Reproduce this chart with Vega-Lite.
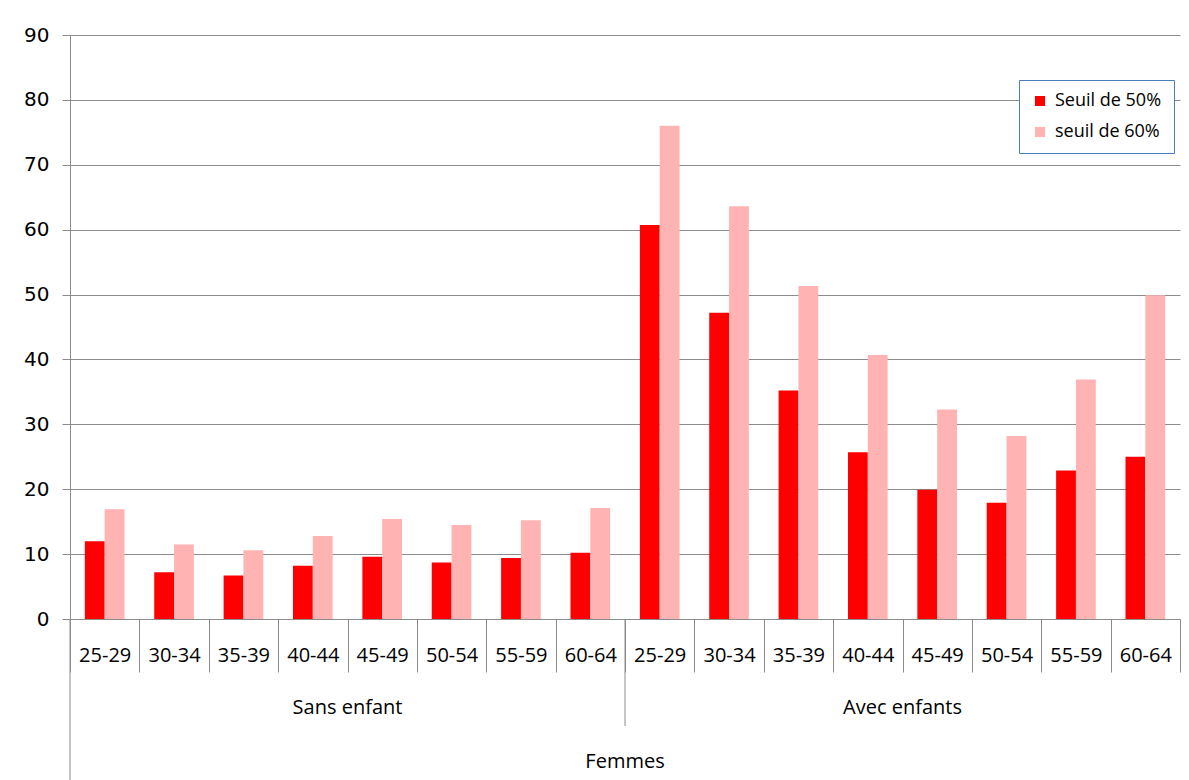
{
  "$schema": "https://vega.github.io/schema/vega-lite/v6.json",
  "width": 1110,
  "height": 584,
  "autosize": {"type": "none"},
  "padding": {"left": 70, "top": 35, "right": 9, "bottom": 161},
  "background": "white",
  "config": {"view": {"stroke": null}, "font": "Open Sans"},
  "datasets": {
    "bars": [
      {"cat": "Sans enfant|25-29", "seuil": "Seuil de 50%", "valeur": 12.0},
      {"cat": "Sans enfant|25-29", "seuil": "seuil de 60%", "valeur": 16.9},
      {"cat": "Sans enfant|30-34", "seuil": "Seuil de 50%", "valeur": 7.2},
      {"cat": "Sans enfant|30-34", "seuil": "seuil de 60%", "valeur": 11.5},
      {"cat": "Sans enfant|35-39", "seuil": "Seuil de 50%", "valeur": 6.7},
      {"cat": "Sans enfant|35-39", "seuil": "seuil de 60%", "valeur": 10.6},
      {"cat": "Sans enfant|40-44", "seuil": "Seuil de 50%", "valeur": 8.2},
      {"cat": "Sans enfant|40-44", "seuil": "seuil de 60%", "valeur": 12.8},
      {"cat": "Sans enfant|45-49", "seuil": "Seuil de 50%", "valeur": 9.6},
      {"cat": "Sans enfant|45-49", "seuil": "seuil de 60%", "valeur": 15.4},
      {"cat": "Sans enfant|50-54", "seuil": "Seuil de 50%", "valeur": 8.7},
      {"cat": "Sans enfant|50-54", "seuil": "seuil de 60%", "valeur": 14.5},
      {"cat": "Sans enfant|55-59", "seuil": "Seuil de 50%", "valeur": 9.4},
      {"cat": "Sans enfant|55-59", "seuil": "seuil de 60%", "valeur": 15.2},
      {"cat": "Sans enfant|60-64", "seuil": "Seuil de 50%", "valeur": 10.2},
      {"cat": "Sans enfant|60-64", "seuil": "seuil de 60%", "valeur": 17.1},
      {"cat": "Avec enfants|25-29", "seuil": "Seuil de 50%", "valeur": 60.7},
      {"cat": "Avec enfants|25-29", "seuil": "seuil de 60%", "valeur": 76.0},
      {"cat": "Avec enfants|30-34", "seuil": "Seuil de 50%", "valeur": 47.2},
      {"cat": "Avec enfants|30-34", "seuil": "seuil de 60%", "valeur": 63.6},
      {"cat": "Avec enfants|35-39", "seuil": "Seuil de 50%", "valeur": 35.2},
      {"cat": "Avec enfants|35-39", "seuil": "seuil de 60%", "valeur": 51.3},
      {"cat": "Avec enfants|40-44", "seuil": "Seuil de 50%", "valeur": 25.7},
      {"cat": "Avec enfants|40-44", "seuil": "seuil de 60%", "valeur": 40.7},
      {"cat": "Avec enfants|45-49", "seuil": "Seuil de 50%", "valeur": 19.9},
      {"cat": "Avec enfants|45-49", "seuil": "seuil de 60%", "valeur": 32.3},
      {"cat": "Avec enfants|50-54", "seuil": "Seuil de 50%", "valeur": 17.9},
      {"cat": "Avec enfants|50-54", "seuil": "seuil de 60%", "valeur": 28.2},
      {"cat": "Avec enfants|55-59", "seuil": "Seuil de 50%", "valeur": 22.9},
      {"cat": "Avec enfants|55-59", "seuil": "seuil de 60%", "valeur": 36.9},
      {"cat": "Avec enfants|60-64", "seuil": "Seuil de 50%", "valeur": 25.0},
      {"cat": "Avec enfants|60-64", "seuil": "seuil de 60%", "valeur": 49.9}
    ],
    "groups": [
      {"cat": "Sans enfant|45-49", "label": "Sans enfant"},
      {"cat": "Avec enfants|45-49", "label": "Avec enfants"}
    ],
    "femmes": [{"cat": "Avec enfants|25-29", "label": "Femmes"}],
    "leftLine": [{"cat": "Sans enfant|25-29"}],
    "midLine": [{"cat": "Avec enfants|25-29"}]
  },
  "layer": [
    {
      "data": {"name": "bars"},
      "mark": {"type": "bar"},
      "encoding": {
        "x": {
          "field": "cat",
          "type": "nominal",
          "scale": {
            "domain": ["Sans enfant|25-29", "Sans enfant|30-34", "Sans enfant|35-39", "Sans enfant|40-44", "Sans enfant|45-49", "Sans enfant|50-54", "Sans enfant|55-59", "Sans enfant|60-64", "Avec enfants|25-29", "Avec enfants|30-34", "Avec enfants|35-39", "Avec enfants|40-44", "Avec enfants|45-49", "Avec enfants|50-54", "Avec enfants|55-59", "Avec enfants|60-64"],
            "paddingInner": 0,
            "paddingOuter": 0
          },
          "axis": {
            "title": null,
            "labelExpr": "split(datum.label, '|')[1]",
            "labelAngle": 0,
            "labelFont": "Open Sans",
            "labelFontSize": 20,
            "labelColor": "#000000",
            "labelBaseline": "middle",
            "labelPadding": -17,
            "tickBand": "extent",
            "tickSize": 53,
            "tickColor": "#8c8c8c",
            "domainColor": "#8c8c8c",
            "grid": false
          }
        },
        "xOffset": {
          "field": "seuil",
          "type": "nominal",
          "scale": {"domain": ["Seuil de 50%", "seuil de 60%"], "paddingInner": 0, "paddingOuter": 0.75}
        },
        "y": {
          "field": "valeur",
          "type": "quantitative",
          "scale": {"domain": [0, 90], "nice": false},
          "axis": {
            "title": null,
            "values": [0, 10, 20, 30, 40, 50, 60, 70, 80, 90],
            "grid": true,
            "gridColor": "#8c8c8c",
            "domainColor": "#8c8c8c",
            "tickColor": "#8c8c8c",
            "tickSize": 8,
            "labelPadding": 13,
            "labelFont": "DejaVu Sans",
            "labelFontSize": 20,
            "labelColor": "#000000"
          }
        },
        "color": {
          "field": "seuil",
          "type": "nominal",
          "scale": {"domain": ["Seuil de 50%", "seuil de 60%"], "range": ["#ff0000", "#ffb3b3"]},
          "legend": {
            "title": null,
            "orient": "none",
            "legendX": 949,
            "legendY": 45,
            "symbolType": "square",
            "symbolSize": 100,
            "symbolStrokeWidth": 0,
            "labelFont": "Open Sans",
            "labelFontSize": 18,
            "labelColor": "#000000",
            "labelOffset": 6,
            "rowPadding": 13,
            "padding": 12,
            "strokeColor": "#4a7ebb",
            "fillColor": "#ffffff"
          }
        }
      }
    },
    {
      "data": {"name": "groups"},
      "mark": {"type": "text", "y": {"expr": "height"}, "dy": 89, "font": "Open Sans", "fontSize": 20, "color": "#000000", "baseline": "middle", "align": "center"},
      "encoding": {
        "x": {"field": "cat", "type": "nominal", "bandPosition": 0},
        "text": {"field": "label"}
      }
    },
    {
      "data": {"name": "femmes"},
      "mark": {"type": "text", "y": {"expr": "height"}, "dy": 143, "font": "Open Sans", "fontSize": 20, "color": "#000000", "baseline": "middle", "align": "center"},
      "encoding": {
        "x": {"field": "cat", "type": "nominal", "bandPosition": 0},
        "text": {"field": "label"}
      }
    },
    {
      "data": {"name": "leftLine"},
      "mark": {"type": "rule", "y": {"expr": "height"}, "y2": {"expr": "height + 161"}, "color": "#8c8c8c"},
      "encoding": {
        "x": {"field": "cat", "type": "nominal", "bandPosition": 0}
      }
    },
    {
      "data": {"name": "midLine"},
      "mark": {"type": "rule", "y": {"expr": "height"}, "y2": {"expr": "height + 107"}, "color": "#8c8c8c"},
      "encoding": {
        "x": {"field": "cat", "type": "nominal", "bandPosition": 0}
      }
    }
  ]
}
